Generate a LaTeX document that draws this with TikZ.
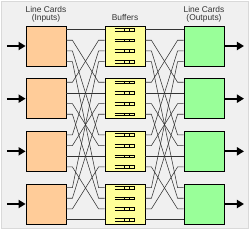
\documentclass[tikz,border=0pt]{standalone}
\usepackage{fontspec}
\setmainfont{Liberation Sans}
\usetikzlibrary{calc,arrows.meta}
\definecolor{bgc}{HTML}{F0F0F0}
\definecolor{inc}{HTML}{FFCC99}
\definecolor{bufc}{HTML}{FFFF99}
\definecolor{outc}{HTML}{99FF99}
\definecolor{txt}{HTML}{333333}
\definecolor{wirec}{HTML}{333333}
\begin{document}
\begin{tikzpicture}[x=1pt,y=-1pt,
  card/.style={draw=black, line width=0.8pt, minimum width=40pt, minimum height=40pt, inner sep=0pt},
  inbox/.style={card, fill=inc},
  bufbox/.style={card, fill=bufc},
  outbox/.style={card, fill=outc},
  wire/.style={draw=wirec, line width=0.55pt},
  bigarrow/.style={line width=2pt, -{Triangle[length=7pt,width=8pt]}},
  lbl/.style={text=txt, align=center, inner sep=0pt, font=\fontsize{8.4}{8.2}\selectfont},
  queue/.style={draw=black, line width=0.5pt}]
\useasboundingbox (0,0) rectangle (250,230);
\fill[white] (0,0) rectangle (250,230);
\draw[fill=bgc, draw=black!15, line width=0.6pt] (1.5,1.5) rectangle (248.5,228.5);
% labels
\node[lbl] (lblin) at (46,14) {Line Cards\\(Inputs)};
\node[lbl] (lblbuf) at (125,18) {Buffers};
\node[lbl] (lblout) at (204,14) {Line Cards\\(Outputs)};
% boxes
\foreach \i in {0,1,2,3}{
  \pgfmathsetmacro{\cy}{46+52.667*\i}
  \node[inbox] (in\i) at (46,\cy) {};
  \node[bufbox] (buf\i) at (125,\cy) {};
  \node[outbox] (out\i) at (204,\cy) {};
  \coordinate (ina\i) at (7,\cy);
  \coordinate (outa\i) at (244,\cy);
  \draw[bigarrow] (ina\i) -- (in\i.west);
  \draw[bigarrow] (out\i.east) -- (outa\i);
  \foreach \j in {0,1,2,3}{
    \pgfmathsetmacro{\py}{4+10.667*\j}
    \path (in\i.north east) ++(0,\py) coordinate (in\i p\j);
    \path (buf\i.north west) ++(0,\py) coordinate (bufl\i p\j);
    \path (buf\i.north east) ++(0,\py) coordinate (bufr\i p\j);
    \path (out\i.north west) ++(0,\py) coordinate (out\i p\j);
    % queue symbol inside buffer
    \path (buf\i.north west) ++(10,\py) coordinate (q\i p\j);
    \draw[queue] ($(q\i p\j)+(0,-1.3)$) -- ++(20,0) -- ++(0,2.6) -- ++(-20,0);
    \draw[queue] ($(q\i p\j)+(10,-1.3)$) -- ++(0,2.6);
    \draw[queue] ($(q\i p\j)+(15,-1.3)$) -- ++(0,2.6);
  }
}
% shuffle wiring
\foreach \i in {0,1,2,3}{
  \foreach \j in {0,1,2,3}{
    \draw[wire] (in\i p\j) -- ++(6,0) -- ($(bufl\j p\i)+(-6,0)$) -- (bufl\j p\i);
    \draw[wire] (bufr\i p\j) -- ++(6,0) -- ($(out\j p\i)+(-6,0)$) -- (out\j p\i);
  }
}
\end{tikzpicture}
\end{document}
